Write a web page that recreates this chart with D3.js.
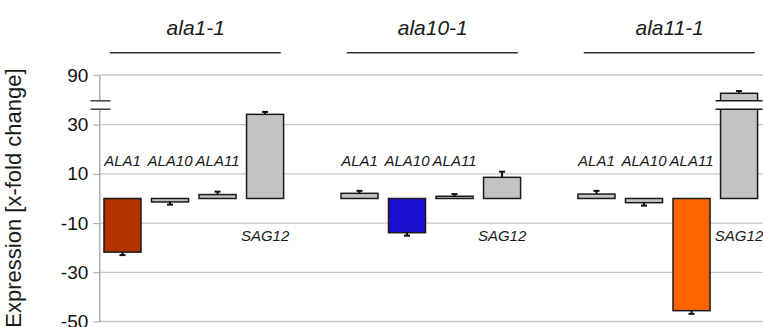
<!DOCTYPE html>
<html>
<head>
<meta charset="utf-8">
<script src="https://cdn.jsdelivr.net/npm/d3@7"></script>
<style>
  body { margin: 0; background: #fff; }
  svg { display: block; }
  text { font-family: "Liberation Sans", Arial, Helvetica, sans-serif; }
</style>
</head>
<body>
<svg id="chart" width="763" height="327"></svg>
<script>
// Mutant lines (groups) and the genes measured in each
const mutantLines = ["ala1-1", "ala10-1", "ala11-1"];
const genes = ["ALA1", "ALA10", "ALA11", "SAG12"];

// Fold change per gene, one array per mutant line
const ala1Values  = [-21.8, -1.4,   1.6, 34.2];
const ala10Values = [  2.1, -13.9,  0.9,  8.6];
const ala11Values = [  1.8, -1.7, -45.6, 58.3];

// Standard errors (drawn on the outward side of each bar)
const ala1Errors  = [1.2, 1.1, 1.2, 1.0];
const ala10Errors = [1.0, 1.2, 0.9, 2.3];
const ala11Errors = [1.3, 1.2, 1.3, 4.0];

// Axis ticks and the value where the y axis is broken
const tickValues = [90, 30, 10, -10, -30, -50];
const axisBreak = 38;

// Knocked-out gene of each line gets its own colour
const lineColors = ["#B23300", "#1B10CF", "#FF6400"];
const otherColor = "#C3C3C3";

const valuesByLine = [ala1Values, ala10Values, ala11Values];
const errorsByLine = [ala1Errors, ala10Errors, ala11Errors];

const rows = [];
mutantLines.forEach((line, i) => {
  genes.forEach((gene, j) => {
    rows.push({
      line, gene,
      value: valuesByLine[i][j],
      error: errorsByLine[i][j],
      color: j === i ? lineColors[i] : otherColor
    });
  });
});

const svg = d3.select("#chart");

// Piecewise y scale: linear below the break, compressed above it
const y = d3.scaleLinear()
  .domain([-50, axisBreak, 90])
  .range([321.5, 105, 75]);

const xGroup = d3.scaleBand()
  .domain(mutantLines)
  .range([98.75, 762.8])
  .paddingInner(0.198)
  .paddingOuter(0);

const xGene = d3.scaleBand()
  .domain(genes)
  .range([0, xGroup.bandwidth()])
  .paddingInner(0.221)
  .paddingOuter(0.11);

const axisX = 99.3;
const breakHalf = 4.2;

// Horizontal gridlines
svg.append("g")
  .selectAll("line")
  .data(tickValues)
  .join("line")
  .attr("x1", axisX)
  .attr("x2", 763)
  .attr("y1", d => y(d))
  .attr("y2", d => y(d))
  .attr("stroke", "#c6c6c6")
  .attr("stroke-width", 1.3);

// Y axis with outside ticks
const yAxis = svg.append("g")
  .attr("transform", `translate(${axisX},0)`)
  .call(d3.axisLeft(y).tickValues(tickValues).tickSize(6).tickSizeOuter(0).tickPadding(5)
    .tickFormat(d3.format("d")));
yAxis.select(".domain").attr("stroke", "#9a9a9a").attr("stroke-width", 1.2);
yAxis.selectAll(".tick line").attr("stroke", "#b0b0b0").attr("stroke-width", 1.2);
yAxis.selectAll(".tick text")
  .attr("font-size", 19)
  .attr("fill", "#111")
  .text(d => d < 0 ? "-" + Math.abs(d) : d);

// Break mark on the axis
const yb = y(axisBreak);
svg.append("rect")
  .attr("x", 90).attr("width", 21)
  .attr("y", yb - breakHalf).attr("height", breakHalf * 2)
  .attr("fill", "#fff");
[yb - breakHalf, yb + breakHalf].forEach(v => {
  svg.append("line")
    .attr("x1", 90.5).attr("x2", 110.5)
    .attr("y1", v).attr("y2", v)
    .attr("stroke", "#333").attr("stroke-width", 1.4);
});

// Bars
const barX = d => xGroup(d.line) + xGene(d.gene);
const bars = svg.append("g");
bars.selectAll("rect")
  .data(rows)
  .join("rect")
  .attr("x", barX)
  .attr("width", xGene.bandwidth())
  .attr("y", d => Math.min(y(d.value), y(0)))
  .attr("height", d => Math.abs(y(d.value) - y(0)))
  .attr("fill", d => d.color)
  .attr("stroke", "#1a1a1a")
  .attr("stroke-width", 1.5);

// Error bars
const errG = svg.append("g").attr("stroke", "#111");
rows.forEach(d => {
  const cx = barX(d) + xGene.bandwidth() / 2;
  const end = d.value >= 0 ? d.value + d.error : d.value - d.error;
  errG.append("line")
    .attr("x1", cx).attr("x2", cx)
    .attr("y1", y(d.value)).attr("y2", y(end))
    .attr("stroke-width", 2);
  errG.append("line")
    .attr("x1", cx - 3).attr("x2", cx + 3)
    .attr("y1", y(end)).attr("y2", y(end))
    .attr("stroke-width", 2);
});

// Break marks across bars that run past the axis break
rows.filter(d => d.value > axisBreak).forEach(d => {
  const x0 = barX(d) - 5, x1 = barX(d) + xGene.bandwidth() + 5;
  svg.append("rect")
    .attr("x", x0).attr("width", x1 - x0)
    .attr("y", yb - breakHalf).attr("height", breakHalf * 2)
    .attr("fill", "#fff");
  [yb - breakHalf, yb + breakHalf].forEach(v => {
    svg.append("line")
      .attr("x1", x0).attr("x2", x1)
      .attr("y1", v).attr("y2", v)
      .attr("stroke", "#1a1a1a").attr("stroke-width", 1.5);
  });
});

// Gene labels: ALA genes above the zero line, SAG12 below it
const labelG = svg.append("g")
  .attr("font-size", 15)
  .attr("font-style", "italic")
  .attr("fill", "#1a1a1a")
  .attr("text-anchor", "middle");
labelG.selectAll("text")
  .data(rows)
  .join("text")
  .attr("x", d => barX(d) + xGene.bandwidth() / 2)
  .attr("y", d => d.gene === "SAG12" ? 241 : 166)
  .text(d => d.gene);

// Mutant line titles with rules beneath
const titleG = svg.append("g");
mutantLines.forEach(line => {
  const cx = xGroup(line) + xGroup.bandwidth() / 2;
  titleG.append("text")
    .attr("x", cx + 2)
    .attr("y", 35)
    .attr("text-anchor", "middle")
    .attr("font-size", 21)
    .attr("font-style", "italic")
    .attr("fill", "#1a1a1a")
    .text(line);
  titleG.append("line")
    .attr("x1", cx - 84).attr("x2", cx + 87)
    .attr("y1", 52.7).attr("y2", 52.7)
    .attr("stroke", "#333").attr("stroke-width", 1.6);
});

// Y axis title
svg.append("text")
  .attr("transform", "translate(20.5,198) rotate(-90)")
  .attr("text-anchor", "middle")
  .attr("font-size", 22)
  .attr("fill", "#1a1a1a")
  .text("Expression [x-fold change]");
</script>
</body>
</html>
